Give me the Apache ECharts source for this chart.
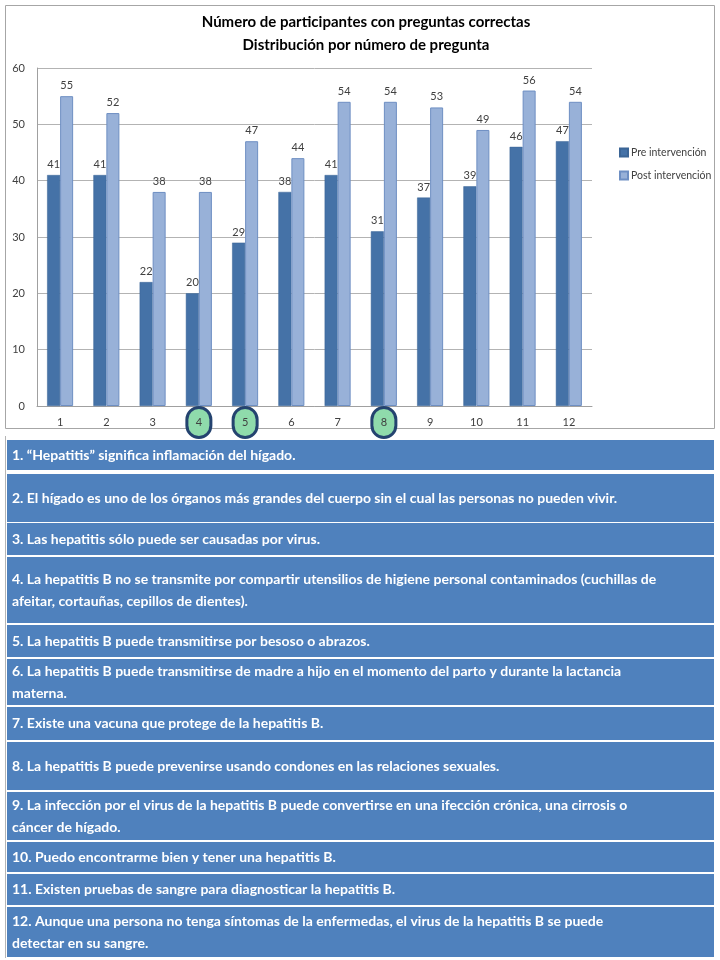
<!DOCTYPE html>
<html><head><meta charset="utf-8">
<script src="https://cdn.jsdelivr.net/npm/echarts@6/dist/echarts.min.js"></script>
<style>html,body{margin:0;padding:0;background:#fff}#c{width:720px;height:960px}</style>
</head><body><div id="c"></div>
<script>
const categories = ['1','2','3','4','5','6','7','8','9','10','11','12'];
const preValues = [41,41,22,20,29,38,41,31,37,39,46,47];
const postValues = [55,52,38,38,47,44,54,54,53,49,56,54];
const seriesNames = ['Pre intervención','Post intervención'];
const highlighted = ['4','5','8'];
const titleLines = ['Número de participantes con preguntas correctas','Distribución por número de pregunta'];
const questions = [
  '1. \u201cHepatitis\u201d significa inflamación del hígado.',
  '2. El hígado es uno de los órganos más grandes del cuerpo sin el cual las personas no pueden vivir.',
  '3. Las hepatitis sólo puede ser causadas por virus.',
  '4. La hepatitis B no se transmite por compartir utensilios de higiene personal contaminados (cuchillas de\nafeitar, cortauñas, cepillos de dientes).',
  '5. La hepatitis B puede transmitirse por besoso o abrazos.',
  '6. La hepatitis B puede transmitirse de madre a hijo en el momento del parto y durante la lactancia\nmaterna.',
  '7. Existe una vacuna que protege de la hepatitis B.',
  '8. La hepatitis B puede prevenirse usando condones en las relaciones sexuales.',
  '9. La infección por el virus de la hepatitis B puede convertirse en una ifección crónica, una cirrosis o\ncáncer de hígado.',
  '10. Puedo encontrarme bien y tener una hepatitis B.',
  '11. Existen pruebas de sangre para diagnosticar la hepatitis B.',
  '12. Aunque una persona no tenga síntomas de la enfermedas, el virus de la hepatitis B se puede\ndetectar en su sangre.'
];

// layout (not data)
const rowTops =    [440,474,523,557,625,659,707,742,792,842,874,907];
const rowBottoms = [470,522,555,623,657,705,740,790,840,872,905,957];
const FONT = 'Lato';

const chart = echarts.init(document.getElementById('c'));
const graphics = [];
graphics.push({type:'rect', shape:{x:5.5,y:5.5,width:709,height:423}, style:{fill:'none', stroke:'#a6a6a6', lineWidth:1}, z:-10});
graphics.push({type:'line', shape:{x1:5.5,y1:436,x2:5.5,y2:958}, style:{stroke:'#b5b5b5', lineWidth:1}});
questions.forEach((q,i)=>{
  const top = rowTops[i], h = rowBottoms[i]-rowTops[i];
  graphics.push({type:'rect', shape:{x:7,y:top,width:707,height:h}, style:{fill:'#4f81bd'}});
  graphics.push({type:'text', x:12, y:top+h/2, style:{text:q, fill:'#ffffff', font:'bold 14px ' + FONT, textVerticalAlign:'middle', lineHeight:22}});
});

const labelRich = {
  n:{fontSize:11, color:'#404040', fontFamily:FONT, lineHeight:31, height:31},
  c:{fontSize:11, color:'#404040', fontFamily:FONT, backgroundColor:'#8fdbab', borderColor:'#24436f', borderWidth:3, borderRadius:13, width:21, height:27, lineHeight:31, align:'center'}
};

chart.setOption({
  animation:false,
  textStyle:{fontFamily:FONT},
  title:{
    text: titleLines.join('\n'),
    left: 361, top: 6, textAlign:'center',
    textStyle:{fontFamily:FONT, fontWeight:'bold', fontSize:15, color:'#000', lineHeight:23}
  },
  legend:{
    orient:'vertical', left:614, top:142, itemWidth:8, itemHeight:8, itemGap:12,
    icon:'rect',
    textStyle:{fontSize:10.5, color:'#404040', fontFamily:FONT, padding:[0,0,0,-2]},
    data: seriesNames
  },
  grid:{left:37, right:128, top:68, bottom:554, containLabel:false},
  xAxis:{
    type:'category', data:categories,
    axisLine:{lineStyle:{color:'#a0a0a0'}},
    axisTick:{show:false},
    axisLabel:{
      margin:1,
      formatter: v => highlighted.includes(v) ? '{c|'+v+'}' : '{n|'+v+'}',
      rich: labelRich
    }
  },
  yAxis:{
    type:'value', min:0, max:60, interval:10,
    axisLine:{show:true, lineStyle:{color:'#a0a0a0'}},
    axisTick:{show:false},
    axisLabel:{fontSize:11, color:'#404040', margin:12, fontFamily:FONT},
    splitLine:{lineStyle:{color:'#b3b3b3'}}
  },
  series:[
    {name:seriesNames[0], type:'bar', data:preValues, barWidth:13, barGap:'0%',
     itemStyle:{color:'#4572a7', borderColor:'#3b6596', borderWidth:0.5},
     label:{show:true, position:'top', distance:5, fontSize:11, color:'#404040', fontFamily:FONT}},
    {name:seriesNames[1], type:'bar', data:postValues, barWidth:13,
     itemStyle:{color:'#98b1d8', borderColor:'#6e8fc3', borderWidth:1},
     label:{show:true, position:'top', distance:5, fontSize:11, color:'#404040', fontFamily:FONT}}
  ],
  graphic: graphics
});
</script></body></html>
